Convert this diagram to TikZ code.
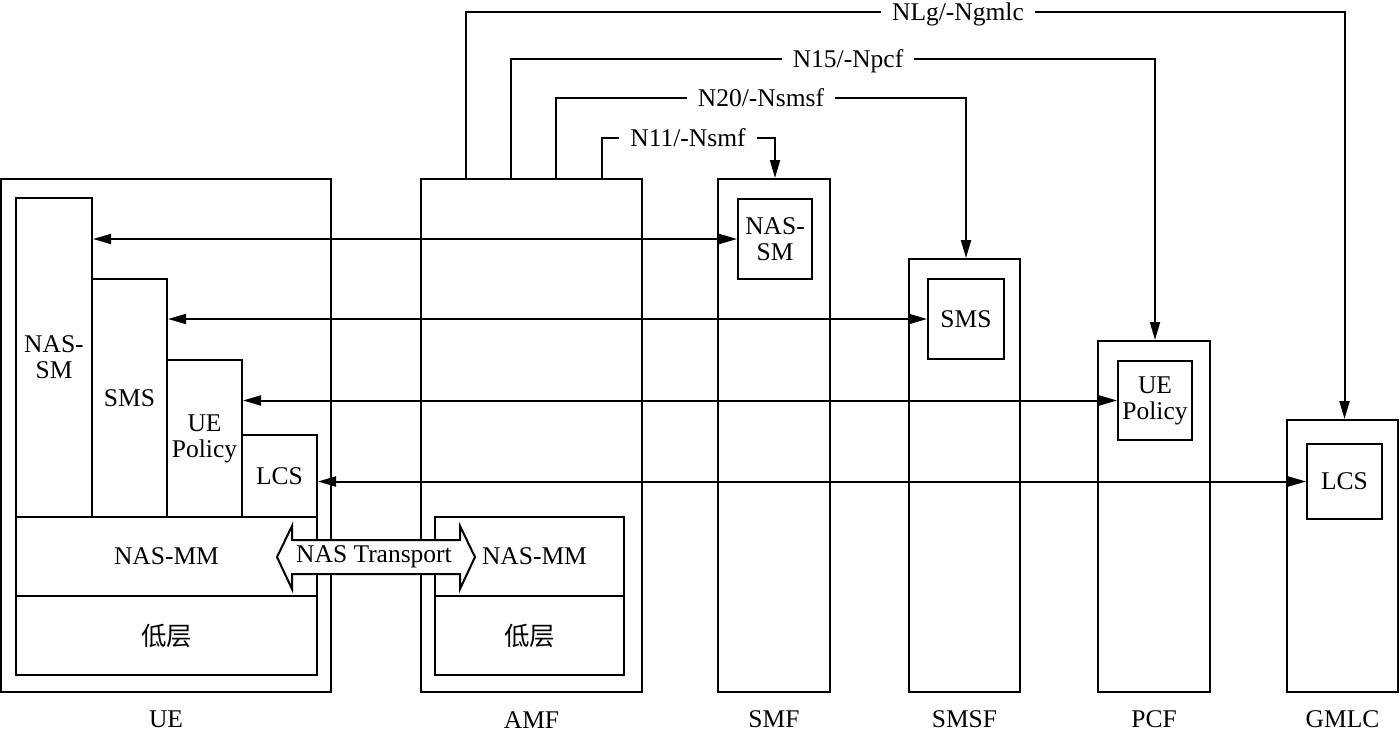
\documentclass[tikz,border=0pt]{standalone}
\usepackage{fontspec}
\setmainfont{Liberation Serif}
\newfontfamily\cjk{Noto Sans CJK SC}
\usetikzlibrary{arrows.meta,positioning}

\begin{document}
\begin{tikzpicture}[
  x=1pt, y=-1pt,
  font=\fontsize{25.5}{26}\selectfont,
  line width=2pt,
  blk/.style={draw, inner sep=0pt, align=center},
  sz/.style 2 args={minimum width=#1pt, minimum height=#2pt},
  lbl/.style={inner xsep=10pt, inner ysep=0pt, text height=17pt, text depth=0pt},
  nfname/.style={inner sep=0pt, anchor=south},
  arr/.style={-{Triangle[length=18pt,width=10pt]}},
  biarr/.style={{Triangle[length=18pt,width=10pt]}-{Triangle[length=18pt,width=10pt]}}
]
\useasboundingbox (0,0) rectangle (1400,731);

% UE stack
\node[blk, sz={330}{513}] (ue) at (166,435.5) {};
\node[blk, sz={76}{319}] (uesm) at (54,357.5) {NAS-\\SM};
\node[blk, sz={75}{238}] (uesms) at (129.5,398) {SMS};
\node[blk, sz={75}{157}] (uepol) at (204.5,438.5) {UE\\Policy};
\node[blk, sz={75}{82}] (uelcs) at (279.5,476) {LCS};
\node[blk, sz={301}{79}] (uemm) at (166.5,556.5) {NAS-MM};
\node[blk, sz={301}{79}] (uelow) at (166.5,635.5) {\cjk 低层};

% AMF
\node[blk, sz={221}{513}] (amf) at (531.5,435.5) {};
\node[blk, sz={189}{79}] (amfmm) at (529.5,556.5) {\hspace*{10pt}NAS-MM};
\node[blk, sz={189}{79}] (amflow) at (529.5,635.5) {\cjk 低层};

% network functions
\node[blk, sz={112}{513}] (smf) at (774,435.5) {};
\node[blk, sz={74}{80}] (smfsm) at (775,239) {NAS-\\SM};
\node[blk, sz={111}{433}] (smsf) at (964.5,475.5) {};
\node[blk, sz={76}{80}] (smsfsms) at (966,319) {SMS};
\node[blk, sz={112}{351}] (pcf) at (1154,516.5) {};
\node[blk, sz={74}{79}] (pcfpol) at (1155,400.5) {UE\\Policy};
\node[blk, sz={111}{272}] (gmlc) at (1342.5,556) {};
\node[blk, sz={75}{75}] (gmlclcs) at (1344.5,481.5) {LCS};

% names below
\node[nfname] (uename) at ([yshift=-36pt]ue.south) {UE};
\node[nfname] (amfname) at ([yshift=-36pt]amf.south) {AMF};
\node[nfname] (smfname) at ([yshift=-36pt]smf.south) {SMF};
\node[nfname] (smsfname) at ([yshift=-36pt]smsf.south) {SMSF};
\node[nfname] (pcfname) at ([yshift=-36pt]pcf.south) {PCF};
\node[nfname] (gmlcname) at ([yshift=-36pt]gmlc.south) {GMLC};

% peer links
\draw[biarr] (uesm.east |- smfsm.west) -- (smfsm.west);
\draw[biarr] (uesms.east |- smsfsms.west) -- (smsfsms.west);
\draw[biarr] (uepol.east |- pcfpol.west) -- (pcfpol.west);
\draw[biarr] (uelcs.east |- gmlclcs.west) -- (gmlclcs.west);

% NAS transport
\draw[fill=white] (277,557) -- (292,526) -- (292,540) -- (460,540) -- (460,526)
  -- (475,557) -- (460,589) -- (460,574) -- (292,574) -- (292,589) -- cycle;
\node (nast) at (374,557) {NAS Transport};

% service interfaces from AMF
\node[lbl] (nlg) at (958,12) {NLg/-Ngmlc};
\node[lbl] (n15) at (848,59) {N15/-Npcf};
\node[lbl] (n20) at (761,98) {N20/-Nsmsf};
\node[lbl] (n11) at (688,138) {N11/-Nsmf};
\draw[arr] ([xshift=46pt]amf.north west) |- (nlg) -| (gmlc.north -| gmlclcs);
\draw[arr] ([xshift=91pt]amf.north west) |- (n15) -| (pcf.north -| pcfpol);
\draw[arr] ([xshift=136pt]amf.north west) |- (n20) -| (smsf.north -| smsfsms);
\draw[arr] ([xshift=182pt]amf.north west) |- (n11) -| (smf.north -| smfsm);
\end{tikzpicture}
\end{document}
